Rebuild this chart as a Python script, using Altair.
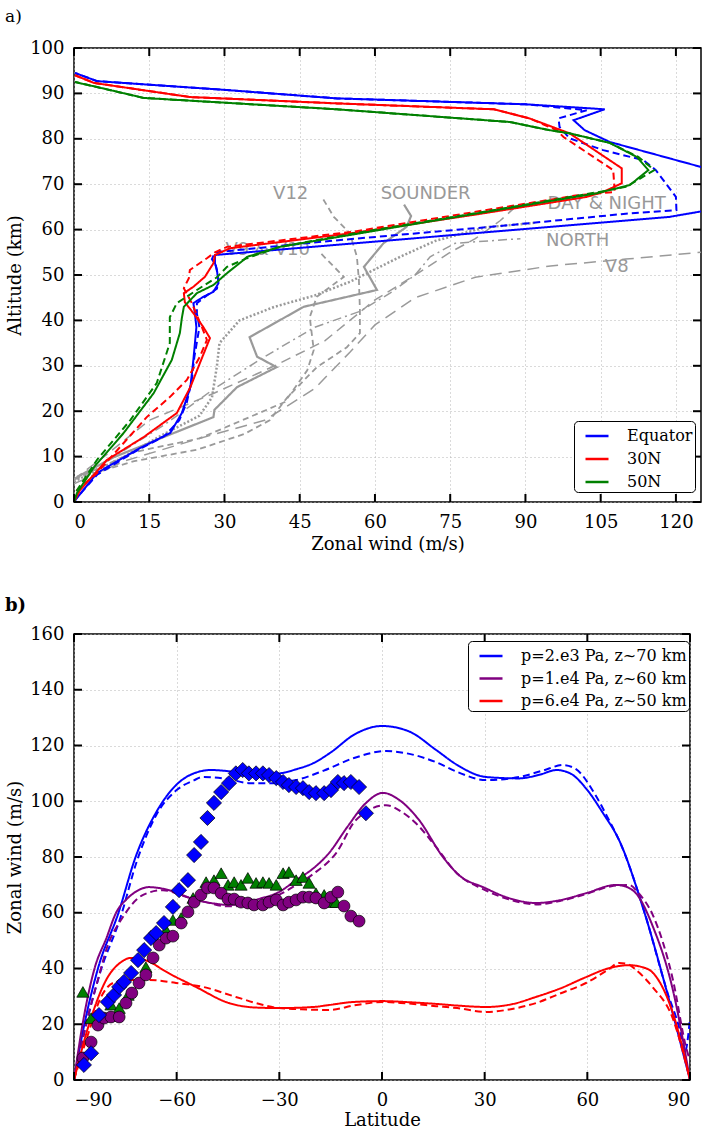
import altair as alt
import pandas as pd

# ======================= Panel a: zonal wind vs altitude =======================
A_XTICKS = [0, 15, 30, 45, 60, 75, 90, 105, 120]
A_YTICKS = [0, 10, 20, 30, 40, 50, 60, 70, 80, 90, 100]
A_SERIES = ["Equator", "30N", "50N"]
A_COLORS = ["#0000ff", "#ff0000", "#008000"]

# (wind m/s, altitude km), from bottom to top
EQ_SOLID = [(0, 0), (0.6, 0.9), (4.6, 6.4), (13.2, 11.9), (19.2, 15.2), (21.5, 19.6), (23.2, 25.3),
            (23.8, 31.3), (24.4, 38.5), (24.1, 41.6), (23.8, 43.8), (25.8, 45.2), (27.8, 46.3),
            (28.8, 48.2), (28.5, 51.1), (28.1, 52.6), (28.1, 54.4), (118.7, 62.8), (125, 64),
            (140, 68), (125, 73.8), (106.8, 79.3), (101.8, 81.9), (99.6, 84.1), (105.8, 86.5),
            (90, 87.6), (70, 88.3), (52.4, 88.9), (31, 90.7), (4.6, 92.7), (0.2, 94.5)]
EQ_DASHED = [(0, 0), (0.6, 1), (4.6, 6), (12, 11), (18, 14.5), (21, 18), (22.5, 22), (23.5, 27),
             (24, 32), (25, 38.5), (24.5, 41.5), (24.5, 43.8), (26.5, 45.5), (28.5, 47), (28.8, 49),
             (28.3, 52), (27.5, 53.5), (28.1, 55), (52, 57.6), (85, 60.8), (110, 63.5), (120.1, 64.3),
             (120, 67.2), (116, 73.1), (113.5, 75.3), (105.5, 77.5), (98.8, 80.1), (96.8, 82.6),
             (96.6, 84.5), (98.8, 85.2), (102.2, 86.3), (90, 87.6), (70, 88.3), (52.4, 88.9),
             (31, 90.7), (4.6, 92.7), (0.2, 94.5)]
N30_SOLID = [(0, 0), (1.2, 2.6), (6.6, 9.3), (13.9, 14.3), (20.5, 19.6), (23.2, 25.3), (25.1, 30.6),
             (27.1, 36.1), (25.8, 38.5), (23.8, 41.6), (22.1, 44), (21.9, 46), (23.8, 47.4),
             (26.1, 49.6), (27.8, 52.6), (28.1, 54.4), (31.1, 55.9), (56, 59.3), (80, 63.3),
             (102.2, 67.2), (105.5, 68.3), (109.2, 70.2), (109.2, 73.5), (98.8, 81.2), (90.8, 84.5),
             (83.7, 86.5), (52.4, 87.8), (23.1, 89.2), (4, 92.3), (0.2, 94)]
N30_DASHED = [(0, 0), (0.6, 2.6), (4.6, 6.4), (9.9, 13), (14.5, 18.7), (19.1, 23.1), (22.5, 26.9),
              (25.1, 32), (26.5, 35.7), (25.5, 38.5), (23.5, 43.8), (21.9, 47.1), (22.9, 49.3),
              (23.1, 51.1), (26.5, 53.7), (28.1, 55), (30.5, 56.2), (56, 59.6), (100, 67.5),
              (107.8, 68.3), (107.5, 73.1), (97.6, 80.4), (96.2, 81.9), (90.8, 84.5), (83.7, 86.5),
              (52.4, 87.8), (23.1, 89.2), (4, 92.3), (0.2, 94)]
N50_SOLID = [(0, 0), (0.6, 2), (4, 7.7), (9.9, 15.2), (15.9, 24), (19.5, 31.3), (21.1, 37.2),
             (21.5, 40.5), (21.9, 43), (24.5, 46), (27.8, 47.8), (30.5, 50.4), (33.8, 53.3),
             (34.5, 54), (41, 56.2), (56, 59), (80, 63.5), (104.2, 68), (110.8, 69.8), (114.5, 73.1),
             (112.2, 76), (106.8, 79.1), (98.8, 81.2), (94.8, 81.9), (86.9, 83.7), (52.4, 86.5),
             (13.9, 89), (4.6, 91.4), (0.2, 92.5)]
N50_DASHED = [(0, 0), (0.6, 2.6), (4.6, 9.3), (11.2, 18), (16.5, 26.2), (19.1, 35), (19.1, 40.7),
              (20.5, 43.8), (24.5, 46.7), (28.5, 49.5), (30.5, 51.8), (34.5, 53.7), (41, 56.2),
              (56, 59.2), (80, 63.6), (104.2, 68.2), (110, 69.4), (115.7, 73.1), (112.5, 76),
              (106.8, 79.1), (98.8, 81.2), (94.8, 81.9), (86.9, 83.7), (52.4, 86.5), (13.9, 89),
              (4.6, 91.4), (0.2, 92.5)]

# grey observed profiles (Venera probes, sounder ...)
V8 = [(0, 4), (10, 9), (25, 14), (38, 18), (48, 25), (55, 33), (60, 39), (68, 45), (80, 49.5),
      (95, 52), (110, 53.5), (125, 55)]
DAYNIGHT = [(0, 5), (6, 10), (15, 18), (28, 24), (40, 30), (50, 35.5), (55, 40), (60, 44.5),
            (68, 50), (75, 55), (80, 58), (85, 62), (88, 65)]
NORTH = [(0, 5), (8, 10), (18, 17), (28, 25), (38, 32), (48, 38.5), (57, 42), (63, 46), (68, 50),
         (71, 54), (76, 57), (89, 58)]
V9 = [(0, 4.5), (10, 10), (18, 15), (25, 19), (27.5, 23), (28.5, 30), (29, 35), (33, 40), (40, 43),
      (48, 45.5), (55, 48.5), (65, 54), (72, 57.5), (82, 60.5), (92, 61.5)]
V10 = [(0, 5), (12, 11), (25, 14), (35, 18.7), (42, 22), (46.5, 29), (47.8, 33.5), (47, 40.7),
       (48.4, 45.2), (53.8, 49.6), (49, 55)]
V12 = [(0, 5), (12, 9), (24.5, 11.5), (34, 15), (39, 18), (42.5, 23), (48.4, 29.7), (54.4, 34.1),
       (57, 37.2), (57, 42.3), (56.8, 48.9), (56.4, 54), (55, 59.2), (51.8, 62.8), (49.4, 67.2)]
SOUNDER = [(0.6, 5.5), (8, 9.9), (17.9, 14.3), (27.8, 18.7), (28, 20.3), (32.5, 25.3), (40.4, 29.7),
           (36.5, 32), (35, 36.3), (45.8, 43), (60.4, 46.7), (57.8, 51.8), (61.7, 57), (66.3, 60.6),
           (67.2, 63), (65.8, 65.5)]
GRAY_LABELS = ["V12", "SOUNDER", "DAY & NIGHT", "NORTH", "V8", "V9 & V10"]
GRAY_LABEL_WIND = [43.2, 70.1, 106.2, 100.4, 108.2, 38.6]
GRAY_LABEL_ALT = [67.8, 67.8, 65.6, 57.5, 51.8, 55.5]

# ======================= Panel b: zonal wind vs latitude =======================
B_XTICKS = [-90, -60, -30, 0, 30, 60, 90]
B_YTICKS = [0, 20, 40, 60, 80, 100, 120, 140, 160]
B_SERIES = ["p=2.e3 Pa, z~70 km", "p=1.e4 Pa, z~60 km", "p=6.e4 Pa, z~50 km"]
B_COLORS = ["#0000ff", "#800080", "#ff0000"]

# (latitude, wind m/s)
P70_SOLID = [(-90, 0), (-87.3, 18), (-83, 40), (-77, 60), (-72, 80), (-66, 96), (-60, 106),
             (-55, 110), (-50, 111.2), (-45, 110.8), (-40, 110), (-35, 109.8), (-30, 110),
             (-25, 111.5), (-20, 113.7), (-15, 117.5), (-8, 124), (0, 127), (8, 125), (15.8, 118.4),
             (22, 113), (30.4, 108.7), (40, 108.2), (46, 109.5), (51, 111.2), (55, 110), (60, 104),
             (64.6, 95.7), (69.3, 86), (76.2, 62), (83.9, 28.7), (90, 0)]
P70_DASHED = [(-90, 0), (-86.8, 18), (-82.5, 38), (-76.5, 58), (-71.5, 79), (-66, 95), (-60, 104),
              (-55, 107.5), (-52.3, 108.7), (-45, 108), (-38.9, 106.5), (-33, 106.5), (-25.1, 107.6),
              (-17, 111), (-8.2, 115.5), (1.2, 118), (8, 117), (15.8, 114), (22, 110.5),
              (30.4, 107.6), (40.1, 108.7), (47, 111), (52.9, 113), (56.7, 111.5), (62, 103),
              (66, 94), (70, 84), (76.5, 61), (83.5, 31), (87, 18), (88.5, 10), (90, 22)]
P60_SOLID = [(-90, 0), (-87.5, 20), (-84, 40), (-80.5, 51), (-77.7, 60), (-74.5, 65), (-72, 67.5),
             (-68.1, 69.2), (-62.2, 68.1), (-54.4, 64.6), (-49, 63.3), (-44.7, 62.8), (-40, 63.2),
             (-36.8, 64.6), (-30, 67.5), (-25.1, 71.7), (-20, 76), (-15.5, 81.4), (-10, 91),
             (-5, 99), (0.3, 103), (5, 100.5), (10.8, 93.3), (17.8, 80), (23, 73), (29.5, 69.2),
             (37, 65.3), (45, 63.5), (52, 64.5), (59.6, 67), (68.4, 70), (72, 69), (74.2, 67),
             (79.2, 54.9), (85, 32.3), (90, 0)]
P60_DASHED = [(-90, 0), (-86.5, 20), (-83, 36), (-80.6, 46.6), (-75.7, 58.5), (-69.8, 66.4),
              (-64, 68.1), (-58, 66), (-52, 64), (-45, 62.3), (-38, 63), (-30, 66.5), (-25, 70),
              (-20, 74), (-13.4, 81.4), (-7.6, 93.3), (1.2, 98.6), (6, 96), (10, 92), (15.8, 83.6),
              (22, 74), (29.5, 68.5), (37, 64.8), (45, 63), (52, 64.2), (59.6, 66.7), (67, 69.5),
              (72.2, 70), (75, 67), (79.2, 59), (85, 36), (89, 11), (90, 7)]
P50_SOLID = [(-90, 0), (-85.6, 20), (-80.6, 35.9), (-76, 42.5), (-73.5, 43.8), (-71, 43.6),
             (-67, 41.8), (-64, 39.5), (-54.4, 33.4), (-44.7, 27.6), (-37, 26), (-30.1, 25.8),
             (-20, 26.2), (-15.5, 26.9), (-8.2, 28), (0.3, 28.3), (8, 27.9), (15.8, 27.3),
             (22, 26.7), (30.4, 26.2), (38, 27.2), (45, 29.8), (52, 32.8), (59.6, 36.9), (66, 40),
             (72.2, 41.2), (76, 40.5), (79.2, 38.4), (85, 24), (90, 0)]
P50_DASHED = [(-90, 0), (-86, 16), (-82, 30), (-78.6, 34.8), (-73.9, 35.9), (-68.1, 35.9),
              (-60.2, 34.8), (-52.3, 33.4), (-42.7, 29.8), (-35, 27), (-30.1, 25.8), (-22, 25.3),
              (-15.5, 25.1), (-8, 26.8), (0.3, 28), (7, 27.5), (15.8, 26.5), (22, 25.8),
              (30.4, 24.4), (38, 25.5), (45, 27.6), (52, 31), (59.6, 34.8), (66, 39.5), (69.3, 42),
              (72, 41.5), (74.2, 39.5), (79, 33.4), (85, 22), (90, 0)]

DIAMONDS = [(-87.1, 5.4), (-85, 9.6), (-82.7, 23.3), (-80.1, 28), (-78.3, 30.5), (-76.8, 33.4),
            (-75.4, 35.2), (-73.3, 38.4), (-71.3, 43), (-69.5, 46.6), (-67.5, 50.9), (-66, 52.7),
            (-63.7, 56.3), (-61.1, 62.1), (-59.3, 68.1), (-56.7, 71.7), (-54.9, 80.7),
            (-52.9, 85.4), (-51, 94), (-49.1, 99.4), (-47, 103.3), (-44.7, 106.5), (-42.7, 110),
            (-40.7, 111.2), (-38.9, 110), (-36.8, 110), (-34.8, 110), (-33, 109.4), (-30.9, 108.3),
            (-28.9, 106.9), (-27.2, 105.8), (-25.1, 105.1), (-23.1, 104.7), (-21.3, 103.3),
            (-19.3, 102.9), (-16.9, 102.9), (-14.9, 104), (-12.9, 106.9), (-11.1, 106.5),
            (-9.1, 106.9), (-6.7, 105.1), (-4.7, 95.7)]
TRIANGLES = [(-87.4, 31.6), (-85, 22.2), (-79.2, 27), (-76.8, 25.8), (-74.2, 30.5), (-69, 40.5),
             (-63.1, 53.8), (-61.1, 57.4), (-58.7, 58.1), (-55.2, 65.3), (-51.4, 71), (-49.1, 71.7),
             (-47, 74.2), (-45, 70), (-43.2, 71), (-41.2, 70), (-39.2, 72.5), (-36.8, 70.7),
             (-34.8, 71), (-33, 70.7), (-30.9, 70), (-28.9, 74.2), (-27.2, 74.6), (-25.1, 71.7),
             (-23.1, 72.8), (-21.3, 70.7), (-19.3, 67), (-16.9, 66.4), (-14.9, 63.8), (-13.4, 63.8)]
CIRCLES = [(-87.4, 7.9), (-85, 13.6), (-83, 19.7), (-81.2, 22.2), (-79.2, 22.6), (-76.8, 22.6),
           (-74.8, 27.6), (-73.1, 31.2), (-71, 34.8), (-69, 37.7), (-66.9, 43.8), (-65.1, 48.4),
           (-63.1, 50.9), (-61.1, 51.6), (-58.7, 56.3), (-56.7, 60.3), (-54.9, 63.8), (-52.9, 66.4),
           (-51, 68.9), (-49.1, 68.9), (-47, 67), (-45, 64.9), (-43.2, 64.9), (-41.2, 63.8),
           (-39.2, 63.5), (-37.4, 62.8), (-34.8, 62.8), (-33, 63.8), (-30.9, 64.6), (-28.9, 62.8),
           (-27.2, 63.8), (-25.1, 64.6), (-23.1, 65.6), (-21.3, 65.6), (-19.3, 65.3), (-16.9, 63.5),
           (-14.9, 65.6), (-12.9, 67.4), (-11.1, 62.4), (-9.1, 58.8), (-6.7, 57)]

# ======================= helpers =======================
SERIF = "DejaVu Serif"
WA, HA = 627, 454
WB, HB = 616, 446


def line_frame(pts, xname, yname, series="", style="solid"):
    return pd.DataFrame({
        xname: [p[0] for p in pts],
        yname: [p[1] for p in pts],
        "series": series,
        "style": style,
        "i": list(range(len(pts))),
    })


def make_axes(xname, yname, xdom, ydom, xt, yt, xtitle, ytitle, xlp, xtp):
    X = alt.X(f"{xname}:Q", scale=alt.Scale(domain=xdom, nice=False, zero=False),
              axis=alt.Axis(values=xt, title=xtitle, format="d", labelPadding=xlp, titlePadding=xtp))
    Y = alt.Y(f"{yname}:Q", scale=alt.Scale(domain=ydom, nice=False, zero=False),
              axis=alt.Axis(values=yt, title=ytitle, format="d", labelPadding=10, titlePadding=5))
    return X, Y


def tick_layers(xname, yname, X, Y, xt, yt, W, H, L=8):
    dx = pd.DataFrame({xname: xt})
    dy = pd.DataFrame({yname: yt})
    rule = dict(color="black", strokeWidth=2)
    return [
        alt.Chart(dx).mark_rule(**rule).encode(x=X, y=alt.value(H), y2=alt.value(H - L)),
        alt.Chart(dx).mark_rule(**rule).encode(x=X, y=alt.value(0), y2=alt.value(L)),
        alt.Chart(dy).mark_rule(**rule).encode(y=Y, x=alt.value(0), x2=alt.value(L)),
        alt.Chart(dy).mark_rule(**rule).encode(y=Y, x=alt.value(W), x2=alt.value(W - L)),
    ]


def legend(x, y, rp):
    return alt.Legend(title=None, orient="none", legendX=x, legendY=y, symbolType="stroke",
                      symbolSize=529, symbolStrokeWidth=2.5, labelFont=SERIF, labelFontSize=16,
                      labelColor="black", strokeColor="black", fillColor="white", labelLimit=400,
                      cornerRadius=4, padding=2, symbolOffset=8, rowPadding=rp, labelOffset=17)


DASH = alt.StrokeDash("style:N", scale=alt.Scale(domain=["solid", "dashed"], range=[[1, 0], [7, 4]]),
                      legend=None)

# ======================= build panel a =======================
XA, YA = make_axes("wind", "alt", [0, 125], [0, 100], A_XTICKS, A_YTICKS,
                   "Zonal wind (m/s)", "Altitude (km)", 11, 4)

gray_specs = [
    (V8, [12, 7], 1.5), (DAYNIGHT, [10, 6], 1.5), (NORTH, [9, 4, 2, 4], 1.5), (V9, [2, 2], 2.5),
    (V10, [6, 4], 1.8), (V12, [6, 4], 1.8), (SOUNDER, [1, 0], 2.2),
]
gray_layers = [
    alt.Chart(line_frame(pts, "wind", "alt")).mark_line(
        color="#9a9a9a", strokeWidth=w, strokeDash=d, clip=True
    ).encode(x=XA, y=YA, order="i:Q")
    for pts, d, w in gray_specs
]

gray_text = alt.Chart(pd.DataFrame({"label": GRAY_LABELS, "wind": GRAY_LABEL_WIND,
                                    "alt": GRAY_LABEL_ALT})).mark_text(
    font="DejaVu Sans", fontSize=18, color="#999999"
).encode(x=XA, y=YA, text="label:N")

a_lines = pd.concat([
    line_frame(EQ_SOLID, "wind", "alt", "Equator", "solid"),
    line_frame(EQ_DASHED, "wind", "alt", "Equator", "dashed"),
    line_frame(N30_SOLID, "wind", "alt", "30N", "solid"),
    line_frame(N30_DASHED, "wind", "alt", "30N", "dashed"),
    line_frame(N50_SOLID, "wind", "alt", "50N", "solid"),
    line_frame(N50_DASHED, "wind", "alt", "50N", "dashed"),
])
color_lines_a = alt.Chart(a_lines).mark_line(strokeWidth=2, clip=True).encode(
    x=XA, y=YA, order="i:Q",
    color=alt.Color("series:N", scale=alt.Scale(domain=A_SERIES, range=A_COLORS),
                    legend=legend(500, 373, 2)),
    strokeDash=DASH,
)

label_a = alt.Chart(pd.DataFrame({"t": ["a)"]})).mark_text(
    font=SERIF, fontSize=17, align="left", baseline="middle", color="black"
).encode(x=alt.value(-69), y=alt.value(-31), text="t:N")

panel_a = alt.layer(
    *gray_layers, gray_text, color_lines_a,
    *tick_layers("wind", "alt", XA, YA, A_XTICKS, A_YTICKS, WA, HA), label_a
).properties(width=WA, height=HA)

# ======================= build panel b =======================
XB, YB = make_axes("lat", "u", [-90, 90], [0, 160], B_XTICKS, B_YTICKS,
                   "Latitude", "Zonal wind (m/s)", 11, 2)

b_lines = pd.concat([
    line_frame(P70_SOLID, "lat", "u", B_SERIES[0], "solid"),
    line_frame(P70_DASHED, "lat", "u", B_SERIES[0], "dashed"),
    line_frame(P60_SOLID, "lat", "u", B_SERIES[1], "solid"),
    line_frame(P60_DASHED, "lat", "u", B_SERIES[1], "dashed"),
    line_frame(P50_SOLID, "lat", "u", B_SERIES[2], "solid"),
    line_frame(P50_DASHED, "lat", "u", B_SERIES[2], "dashed"),
])
color_lines_b = alt.Chart(b_lines).mark_line(strokeWidth=2, clip=True, interpolate="monotone").encode(
    x=XB, y=YB, order="i:Q",
    color=alt.Color("series:N", scale=alt.Scale(domain=B_SERIES, range=B_COLORS),
                    legend=legend(394, 7, 1.5)),
    strokeDash=DASH,
)


def markers(pts, shape, size, fill):
    return alt.Chart(line_frame(pts, "lat", "u")).mark_point(
        shape=shape, size=size, filled=True, fill=fill, stroke="black", strokeWidth=0.7,
        opacity=1, fillOpacity=1
    ).encode(x=XB, y=YB)


label_b = alt.Chart(pd.DataFrame({"t": ["b)"]})).mark_text(
    font=SERIF, fontSize=18, fontWeight="bold", align="left", baseline="middle", color="black"
).encode(x=alt.value(-69), y=alt.value(-28.5), text="t:N")

panel_b = alt.layer(
    color_lines_b,
    markers(TRIANGLES, "triangle-up", 150, "#008000"),
    markers(CIRCLES, "circle", 140, "#800080"),
    markers(DIAMONDS, "diamond", 230, "#0000ff"),
    *tick_layers("lat", "u", XB, YB, B_XTICKS, B_YTICKS, WB, HB), label_b
).properties(width=WB, height=HB)

chart = alt.vconcat(panel_a, panel_b, spacing=132, bounds="flush").resolve_scale(
    color="independent", strokeDash="independent"
).resolve_legend(color="independent", strokeDash="independent").properties(
    padding={"left": 4, "top": 7, "right": 0, "bottom": 0}
).configure_axis(
    labelFont=SERIF, labelFontSize=18, labelColor="black",
    titleFont=SERIF, titleFontSize=18, titleFontWeight="normal", titleColor="black",
    ticks=False, tickSize=0, domain=False, grid=True, gridColor="#b5b5b5", gridDash=[1, 3],
    gridWidth=1,
).configure_view(stroke="black", strokeWidth=1.5)

chart.save("out.html", embed_options={"renderer": "svg", "actions": False})
